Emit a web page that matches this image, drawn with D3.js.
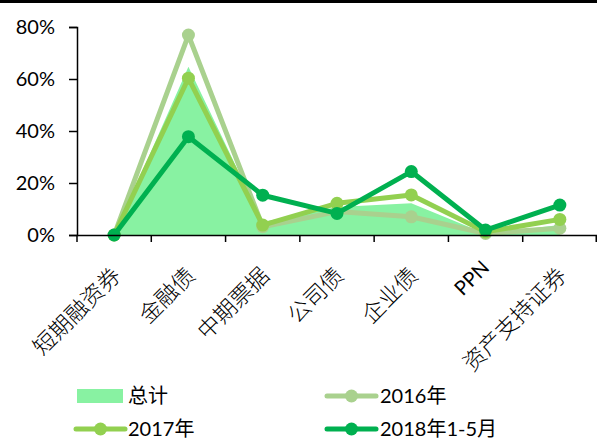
<!DOCTYPE html>
<html><head><meta charset="utf-8">
<script src="https://cdn.jsdelivr.net/npm/d3@7"></script>
<style>
html,body{margin:0;padding:0;background:#fff;}
svg{display:block;}
</style></head>
<body>
<svg id="c" width="597" height="439"></svg>
<script>
const categories = ["短期融资券","金融债","中期票据","公司债","企业债","PPN","资产支持证券"];
const total = [0, 64.7, 5.0, 10.8, 12.2, 0.5, 3.8];
const s2016 = [0, 76.9, 3.2, 9.0, 7.0, 0.6, 2.6];
const s2017 = [0, 60.3, 3.8, 12.2, 15.4, 1.2, 6.0];
const s2018 = [0, 37.8, 15.3, 8.3, 24.4, 1.9, 11.5];
const yTicks = [0, 20, 40, 60, 80];
const seriesNames = ["总计","2016年","2017年","2018年1-5月"];

const svg = d3.select("#c");
const mLeft = 77, mRight = 597, mTop = 27, mBottom = 235;
const latin = "Lato, 'Noto Sans', 'Noto Sans CJK SC', sans-serif";
const cjk = "'Noto Sans CJK SC', sans-serif";

svg.append("rect").attr("x",0).attr("y",0).attr("width",597).attr("height",3).attr("fill","#000");

const x = d3.scaleBand().domain(categories).range([mLeft, mRight]).padding(0);
const y = d3.scaleLinear().domain([0, 80]).range([mBottom, mTop]);
const cx = c => x(c) + x.bandwidth()/2;

// area
const area = d3.area().x((d,i)=>cx(categories[i])).y0(y(0)).y1(d=>y(d));
svg.append("path").datum(total).attr("d", area).attr("fill","#88F2A2");

const lineGen = d3.line().x((d,i)=>cx(categories[i])).y(d=>y(d));
const series = [
  {data:s2016, color:"#A9D18E"},
  {data:s2017, color:"#92D050"},
  {data:s2018, color:"#00B050"}
];
series.forEach(s=>{
  svg.append("path").datum(s.data).attr("d", lineGen).attr("fill","none")
    .attr("stroke", s.color).attr("stroke-width",5).attr("stroke-linejoin","round");
  svg.selectAll(null).data(s.data).enter().append("circle")
    .attr("cx",(d,i)=>cx(categories[i])).attr("cy",d=>y(d)).attr("r",6.5).attr("fill",s.color);
});

// y axis
const yAxis = d3.axisLeft(y).tickValues(yTicks).tickFormat(d=>d+"%").tickSize(8).tickPadding(14);
const ga = svg.append("g").attr("transform",`translate(${mLeft},0)`).call(yAxis);
ga.select(".domain").attr("stroke","#000").attr("stroke-width",1.5);
ga.selectAll(".tick line").attr("stroke","#000").attr("stroke-width",1.5);
ga.selectAll("text").attr("font-family",latin).attr("font-size",20).attr("fill","#000");

// x axis
const xAxis = d3.axisBottom(x).tickSize(0).tickFormat("");
const gx = svg.append("g").attr("transform",`translate(0,${mBottom})`).call(xAxis);
gx.select(".domain").attr("stroke","#000").attr("stroke-width",1.5);
const edges = categories.map(c=>x(c)).concat([mRight-0.75]);
gx.selectAll(".edge").data(edges).enter().append("line")
  .attr("x1",d=>d).attr("x2",d=>d).attr("y1",0).attr("y2",7)
  .attr("stroke","#000").attr("stroke-width",1.5);

svg.selectAll(".xl").data(categories).enter().append("text")
  .attr("transform",c=> c==="PPN"
      ? `translate(${cx(c)+5},${mBottom+34}) rotate(-45)`
      : `translate(${cx(c)+8},${mBottom+42}) rotate(-45)`)
  .attr("text-anchor","end")
  .attr("font-family",c=>c==="PPN"?latin:cjk)
  .attr("font-weight",c=>c==="PPN"?400:300)
  .attr("font-size",c=>c==="PPN"?20:22.5)
  .attr("fill","#000")
  .text(c=>c);

// legend
const lg = svg.append("g");
lg.append("rect").attr("x",77).attr("y",389).attr("width",46).attr("height",14).attr("fill","#88F2A2");
const legendItems = [
  {name:seriesNames[0], tx:128, ty:396, type:"area"},
  {name:seriesNames[1], tx:380, ty:396, color:"#A9D18E", lx:327},
  {name:seriesNames[2], tx:128, ty:429, color:"#92D050", lx:76},
  {name:seriesNames[3], tx:380, ty:429, color:"#00B050", lx:327}
];
legendItems.forEach(it=>{
  if(it.type!=="area"){
    lg.append("line").attr("x1",it.lx).attr("x2",it.lx+49).attr("y1",it.ty).attr("y2",it.ty)
      .attr("stroke",it.color).attr("stroke-width",5).attr("stroke-linecap","round");
    lg.append("circle").attr("cx",it.lx+24.5).attr("cy",it.ty).attr("r",6.5).attr("fill",it.color);
  }
  lg.append("text").attr("x",it.tx).attr("y",it.ty).attr("dy","0.33em")
    .attr("font-family",latin).attr("font-size",20).attr("fill","#000").text(it.name);
});
</script>
</body></html>
